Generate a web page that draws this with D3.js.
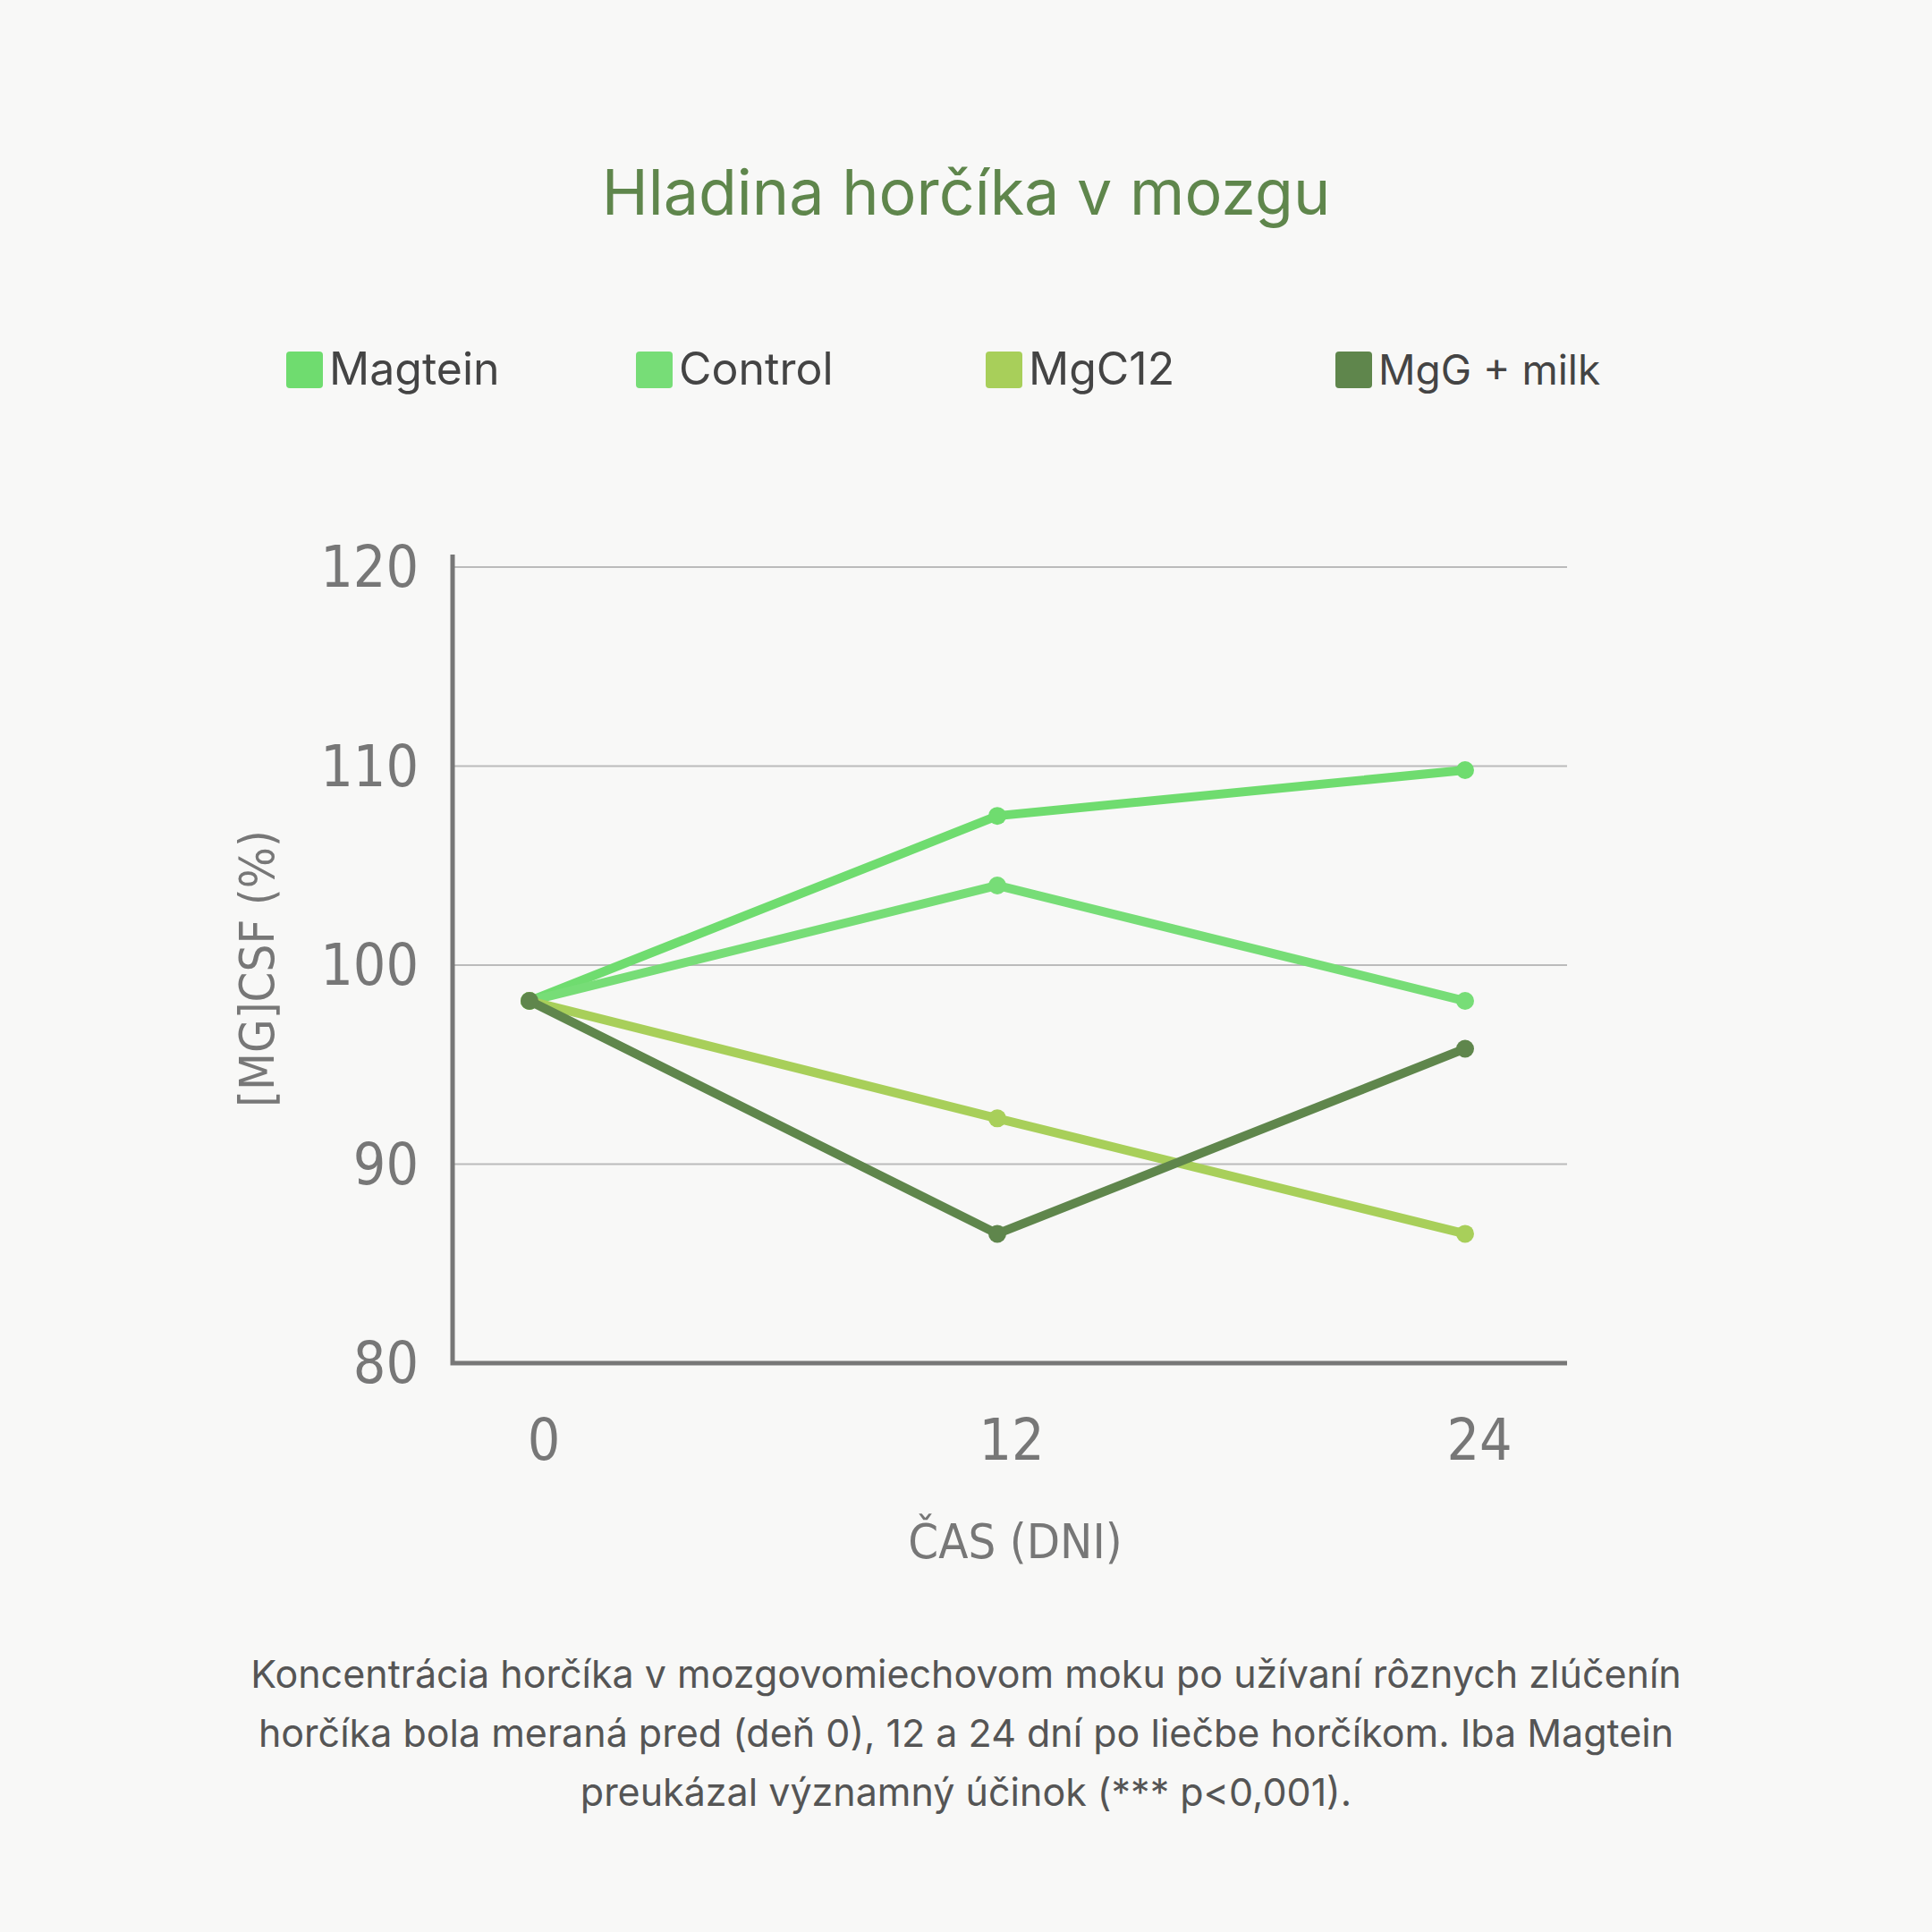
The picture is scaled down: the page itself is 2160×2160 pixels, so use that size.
<!DOCTYPE html><html><head><meta charset="utf-8"><script src="https://cdn.jsdelivr.net/npm/d3@7"></script>
<style>body{margin:0;background:#f8f8f7}</style></head><body><svg id="c" width="2160" height="2160"></svg>
<script>
const days=[0,12,24];
const seriesNames=["Magtein","Control","MgC12","MgG + milk"];
const magtein=[98.2,107.5,109.8];
const control=[98.2,104.0,98.2];
const mgc12=[98.2,92.3,86.5];
const mgg=[98.2,86.5,95.8];
const yTicks=[80,90,100,110,120];
const colors=["#6fdc6f","#77dd77","#a8cf5a","#5f864c"];
const caption=["Koncentrácia horčíka v mozgovomiechovom moku po užívaní rôznych zlúčenín","horčíka bola meraná pred (deň 0), 12 a 24 dní po liečbe horčíkom. Iba Magtein","preukázal významný účinok (*** p<0,001)."];
const svg=d3.select("#c");
svg.append("rect").attr("width",2160).attr("height",2160).attr("fill","#f8f8f7");
const cond="'Liberation Sans Narrow','DejaVu Sans Condensed',sans-serif";
svg.append("text").attr("x",1080).attr("y",240).attr("text-anchor","middle").attr("font-family","Inter").attr("font-size",70).attr("fill","#5f864c").text("Hladina horčíka v mozgu");
const lx=[320,711,1102,1493];
seriesNames.forEach((n,i)=>{svg.append("rect").attr("x",lx[i]).attr("y",393).attr("width",41).attr("height",41).attr("rx",4).attr("fill",colors[i]);
svg.append("text").attr("x",lx[i]+48).attr("y",430).attr("font-family","Inter").attr("font-size",i==3?46:50).attr("fill","#444").text(n);});
const x=d3.scaleLinear().domain([0,24]).range([592,1638]);
const y=d3.scaleLinear().domain([80,120]).range([1524,634]);
yTicks.slice(1).forEach(t=>svg.append("line").attr("x1",506).attr("x2",1752).attr("y1",y(t)).attr("y2",y(t)).attr("stroke","#bbb").attr("stroke-width",2));
yTicks.forEach(t=>svg.append("text").attr("x",468).attr("y",y(t)+22).attr("text-anchor","end").attr("font-family",cond).attr("font-size",64).attr("fill","#777").text(t));
days.forEach(d=>svg.append("text").attr("x",x(d)+16).attr("y",1632).attr("text-anchor","middle").attr("font-family",cond).attr("font-size",64).attr("fill","#777").text(d));
svg.append("path").attr("d","M506,620V1524H1752").attr("fill","none").attr("stroke","#777").attr("stroke-width",5);
svg.append("text").attr("x",1135).attr("y",1742).attr("text-anchor","middle").attr("font-family",cond).attr("font-size",54).attr("fill","#777").text("ČAS (DNI)");
svg.append("text").attr("transform","translate(306,1083) rotate(-90)").attr("text-anchor","middle").attr("font-family",cond).attr("font-size",54).attr("fill","#777").text("[MG]CSF (%)");
const line=d3.line().x((v,i)=>x(days[i])).y(v=>y(v));
[magtein,control,mgc12,mgg].forEach((s,k)=>{
svg.append("path").attr("d",line(s)).attr("fill","none").attr("stroke",colors[k]).attr("stroke-width",10);
s.forEach((v,i)=>svg.append("circle").attr("cx",x(days[i])).attr("cy",y(v)).attr("r",10).attr("fill",colors[k]));});
caption.forEach((c,i)=>svg.append("text").attr("x",1080).attr("y",1887+i*66).attr("text-anchor","middle").attr("font-family","Inter").attr("font-size",43).attr("fill","#555").text(c));
</script></body></html>
